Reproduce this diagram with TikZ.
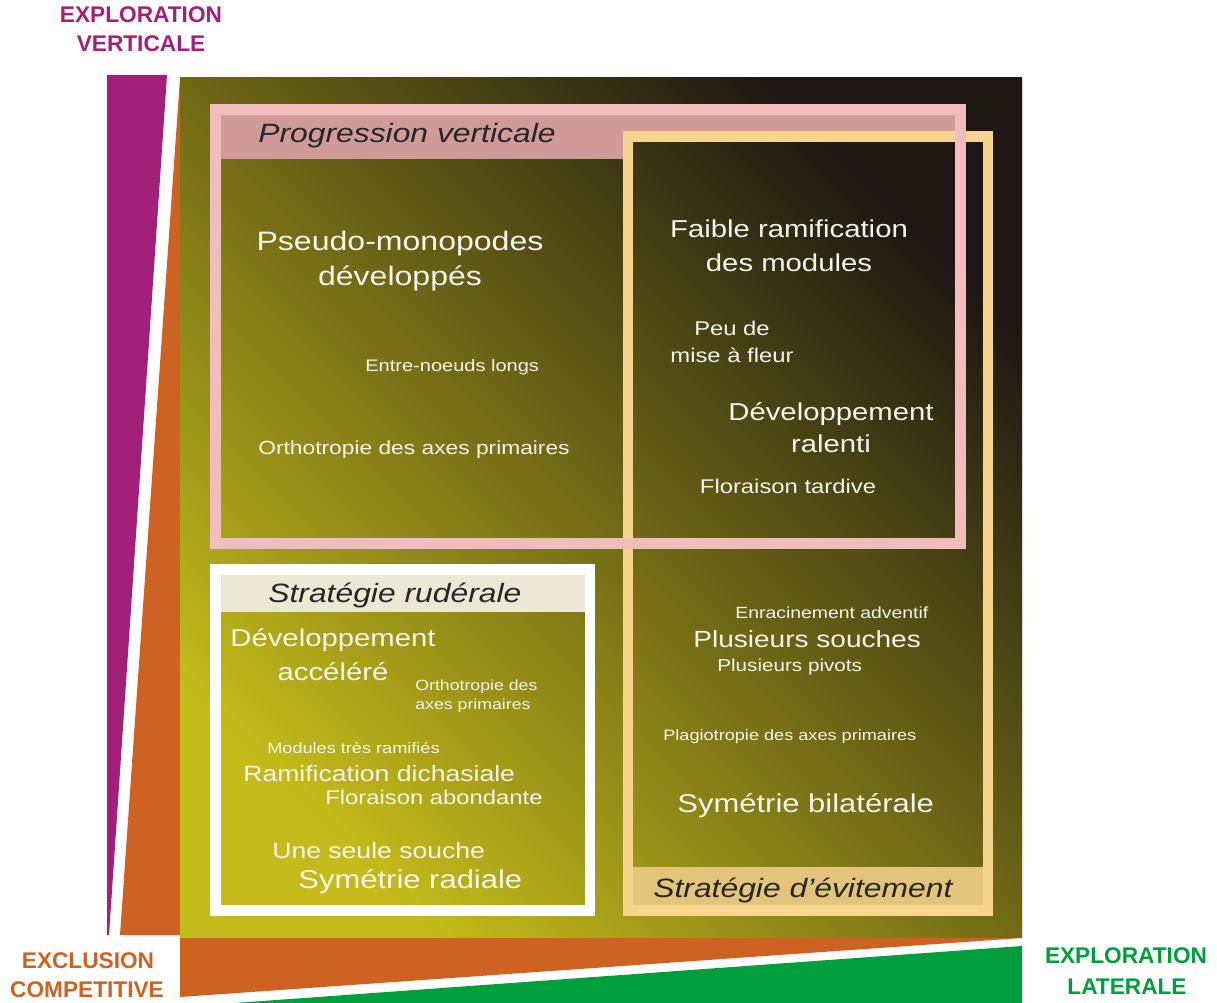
\documentclass[tikz,border=0pt]{standalone}
\usepackage{fontspec}
\setmainfont{Liberation Sans}
\newfontfamily\widesans{Liberation Sans}[FakeStretch=1.2]
\usepackage{xcolor}
\usepackage{tikz}

\definecolor{purp}{HTML}{A21F7A}
\definecolor{oran}{HTML}{CD6222}
\definecolor{gren}{HTML}{009E3C}
\definecolor{yel}{HTML}{C4BB1A}
\definecolor{oli}{HTML}{6B6515}
\definecolor{drk}{HTML}{1C1712}
\definecolor{pinkfr}{HTML}{F0BCBC}
\definecolor{pinkbd}{HTML}{D19A98}
\definecolor{yelfr}{HTML}{F8D58C}
\definecolor{yelbd}{HTML}{E2C47A}
\definecolor{crmbd}{HTML}{EBE9D6}
\definecolor{ink}{HTML}{F4F4EC}
\definecolor{dark}{HTML}{262626}

\begin{document}
\begin{tikzpicture}[
    x=0.02cm, y=-0.02cm,
    txt/.style={font=\widesans\fontsize{#1}{#1}\selectfont, text=ink,
                inner sep=0pt, anchor=base west},
    ttl/.style={font=\widesans\itshape\fontsize{15.1}{15.1}\selectfont, text=dark,
                inner sep=0pt, anchor=base west},
    axl/.style={font=\bfseries\fontsize{12.9}{12.9}\selectfont,
                inner sep=0pt, anchor=base},
    frame/.style={line width=6.2pt},
  ]
  \useasboundingbox (0,0) rectangle (1217,1003);
  %% ---- Axis wedges ----
  % Exploration verticale (purple, left)
  \fill[purp] (107,75) -- (167,75) -- (109,935) -- (107,935) -- cycle;
  % Exclusion competitive (orange, behind the square)
  \fill[oran] (180,78) -- (120,935) -- (180,935) -- (180,997)
    -- (1022,938) -- (1022,78) -- cycle;
  % Exploration laterale (green, bottom)
  \fill[gren] (235,1003) -- (1022,946) -- (1022,1003) -- cycle;
  %% ---- Main square ----
  \shade[top color=drk, middle color=oli, bottom color=yel, shading angle=-45]
    (180,78) rectangle (1022,937);
  %% ---- Title bands ----
  \fill[pinkbd] (221,115) -- (955,115) -- (955,131) -- (623,131)
    -- (623,159) -- (221,159) -- cycle;
  \fill[crmbd] (221,575) rectangle (585,612);
  \fill[yelbd] (633,867) rectangle (983,905);
  %% ---- Frames ----
  \draw[frame, white]  (215.5,569.5) rectangle (590,910.5);
  \draw[frame, yelfr]  (628,136.5) rectangle (988,910.5);
  \draw[frame, pinkfr] (215.5,109.5) rectangle (960.5,543.5);
  %% ---- Progression verticale ----
  \node[ttl] (pv) at (258,143) {Progression verticale};
  \node[txt=15.2, anchor=base] (pm1) at (400,251) {Pseudo-monopodes};
  \node[txt=15.2, anchor=base] (pm2) at (400,286) {développés};
  \node[txt=9.5]  (en) at (365,372) {Entre-noeuds longs};
  \node[txt=10.8] (op) at (258,455) {Orthotropie des axes primaires};
  % overlap with avoidance
  \node[txt=13.9, anchor=base] (fr1) at (789,238) {Faible ramification};
  \node[txt=13.9, anchor=base] (fr2) at (789,272) {des modules};
  \node[txt=11.3, anchor=base] (pf1) at (732,336) {Peu de};
  \node[txt=11.3, anchor=base] (pf2) at (732,363) {mise à fleur};
  \node[txt=13.9, anchor=base] (dr1) at (831,420) {Développement};
  \node[txt=13.9, anchor=base] (dr2) at (831,452) {ralenti};
  \node[txt=11.3, anchor=base] (ft)  at (788,493) {Floraison tardive};
  %% ---- Strategie ruderale ----
  \node[ttl] (sr) at (268,602) {Stratégie rudérale};
  \node[txt=13.9, anchor=base] (da1) at (333,646) {Développement};
  \node[txt=13.9, anchor=base] (da2) at (333,680) {accéléré};
  \node[txt=8.4]  (oa1) at (415,690) {Orthotropie des};
  \node[txt=8.4]  (oa2) at (415,709) {axes primaires};
  \node[txt=8.6]  (mr)  at (267,753) {Modules très ramifiés};
  \node[txt=12.6] (rd)  at (243,781) {Ramification dichasiale};
  \node[txt=11.3] (fa)  at (325,804) {Floraison abondante};
  \node[txt=12.6] (us)  at (272,858) {Une seule souche};
  \node[txt=14.7] (sy)  at (298,888) {Symétrie radiale};
  %% ---- Strategie d'evitement ----
  \node[txt=9.2]  (ea) at (735,618) {Enracinement adventif};
  \node[txt=13.3] (ps) at (693,647) {Plusieurs souches};
  \node[txt=9.8]  (pp) at (717,671) {Plusieurs pivots};
  \node[txt=8.6]  (pa) at (663,740) {Plagiotropie des axes primaires};
  \node[txt=14.7] (sb) at (677,812) {Symétrie bilatérale};
  \node[ttl] (se) at (653,897) {Stratégie d’évitement};
  %% ---- Axis labels ----
  \node[axl, text=purp] (ev1) at (141,23)  {EXPLORATION};
  \node[axl, text=purp] (ev2) at (141,52)  {VERTICALE};
  \node[axl, text=oran] (ec1) at (88,968)  {EXCLUSION};
  \node[axl, text=oran] (ec2) at (87,997)  {COMPETITIVE};
  \node[axl, text=gren] (el1) at (1126,963) {EXPLORATION};
  \node[axl, text=gren] (el2) at (1127,994) {LATERALE};
\end{tikzpicture}
\end{document}
